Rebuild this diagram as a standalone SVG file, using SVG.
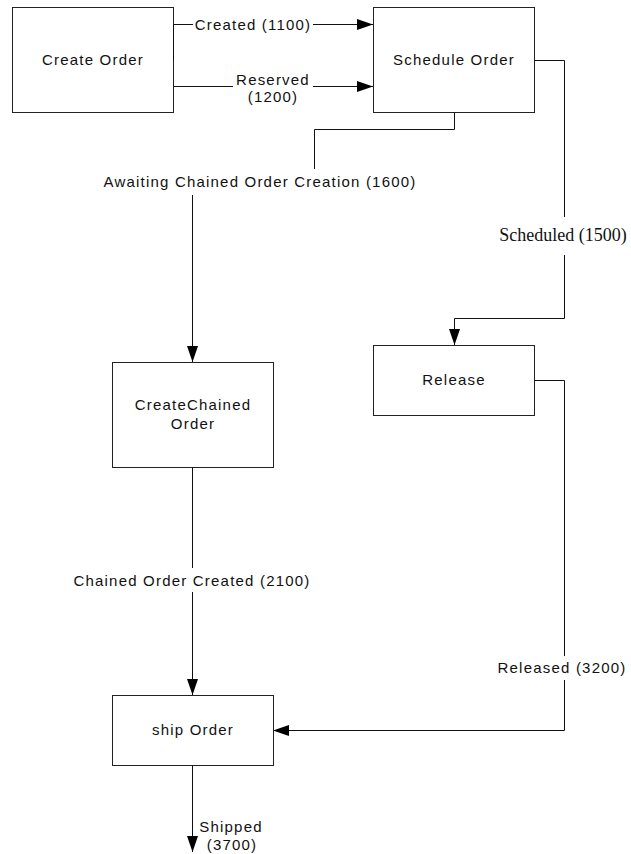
<svg xmlns="http://www.w3.org/2000/svg" width="631" height="854" viewBox="0 0 631 854">
<style>
.box{fill:#fff;stroke:#222;stroke-width:1}
.t{font-family:"Liberation Sans",Arial,sans-serif;font-size:15px;letter-spacing:1.2px;fill:#111;text-anchor:middle}
.s{font-family:"Liberation Serif","Times New Roman",serif;font-size:18px;fill:#111;text-anchor:middle}
.c{fill:none;stroke:#111;stroke-width:1}
</style>
<defs>
<marker id="ah" markerUnits="userSpaceOnUse" markerWidth="17" markerHeight="12" refX="16" refY="5.5" orient="auto">
<path d="M0,0 L16,5.5 L0,11 z" fill="#000"/>
</marker>
</defs>
<g id="n-create-order"><rect class="box" x="12.5" y="7.5" width="161" height="105"/><text class="t" x="93" y="65">Create Order</text></g>
<g id="n-schedule-order"><rect class="box" x="373.5" y="7.5" width="161" height="105"/><text class="t" x="454" y="65">Schedule Order</text></g>
<g id="n-create-chained"><rect class="box" x="112.5" y="362.5" width="161" height="105"/><text class="t" x="193" y="410">CreateChained</text><text class="t" x="193" y="429">Order</text></g>
<g id="n-release"><rect class="box" x="373.5" y="345.5" width="161" height="70"/><text class="t" x="454" y="385">Release</text></g>
<g id="n-ship-order"><rect class="box" x="112.5" y="695.5" width="161" height="70"/><text class="t" x="193" y="735">ship Order</text></g>
<g id="connectors">
<path class="c" d="M173.5,60 V24.5 H193"/>
<path class="c" d="M313,24.5 H373" marker-end="url(#ah)"/>
<text class="t" x="253" y="30">Created (1100)</text>
<path class="c" d="M173.5,86.5 H233"/>
<path class="c" d="M313,86.5 H373" marker-end="url(#ah)"/>
<text class="t" x="273" y="85">Reserved</text>
<text class="t" x="273" y="102">(1200)</text>
<path class="c" d="M454.5,112 V129.5 H314.5 V169"/>
<path class="c" d="M192.5,195 V362" marker-end="url(#ah)"/>
<text class="t" x="260" y="187">Awaiting Chained Order Creation (1600)</text>
<path class="c" d="M534.5,60.5 H564.5 V217"/>
<path class="c" d="M564.5,255 V318.5 H454.5 V345" marker-end="url(#ah)"/>
<text class="s" x="563" y="241">Scheduled (1500)</text>
<path class="c" d="M192.5,467 V568"/>
<path class="c" d="M192.5,592 V695" marker-end="url(#ah)"/>
<text class="t" x="192" y="586">Chained Order Created (2100)</text>
<path class="c" d="M534.5,380.5 H564.5 V656"/>
<path class="c" d="M564.5,680 V730.5 H273" marker-end="url(#ah)"/>
<text class="t" x="562" y="673">Released (3200)</text>
<path class="c" d="M192.5,765 V852" marker-end="url(#ah)"/>
<text class="t" x="231" y="832">Shipped</text>
<text class="t" x="232" y="850">(3700)</text>
</g>
</svg>
